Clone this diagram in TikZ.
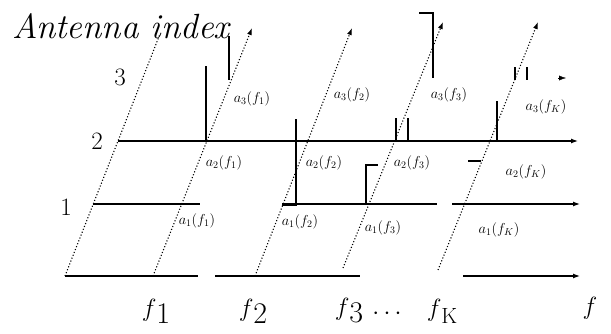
\documentclass[tikz,border=0pt]{standalone}
\usepackage{tikz}
\usetikzlibrary{arrows.meta}

\newcommand{\fsub}[2]{{\fontsize{32}{32}\selectfont$f$}{\fontsize{#2}{#2}\selectfont\raisebox{-7pt}{#1}}}

\begin{document}
\begin{tikzpicture}[x=1pt,y=-1pt,
  axisline/.style={line width=1.2pt},
  freq/.style={dotted,line width=1.1pt},
  pulse/.style={line width=1.4pt},
  tip/.style={-{Latex[length=7pt,width=5pt]}},
  coef/.style={font=\fontsize{14}{14}\selectfont},
  big/.style={font=\fontsize{25}{25}\selectfont}]
  \useasboundingbox (0,0) rectangle (611,334);

  % antenna axis and frequency lines
  \coordinate (a0) at (65,276);  \coordinate (a1) at (160,34);
  \coordinate (p1) at (153,276); \coordinate (q1) at (252,28);
  \coordinate (p2) at (255,276); \coordinate (q2) at (352,28);
  \coordinate (p3) at (343,268); \coordinate (q3) at (443,22);
  \coordinate (pk) at (438,270); \coordinate (qk) at (538,22);
  \draw[freq] (a0) -- (a1);
  \foreach \k in {1,2,3,k}
    \draw[freq,tip] (p\k) -- (q\k);

  % antenna 2
  \coordinate (h2a) at (118,141); \coordinate (h2b) at (578,141);
  \draw[axisline,tip] (h2a) -- (h2b);
  % antenna 1
  \coordinate (h1a) at (93,204);  \coordinate (h1b) at (200,204);
  \coordinate (h1c) at (282,204); \coordinate (h1d) at (437,204);
  \coordinate (h1e) at (452,204); \coordinate (h1f) at (580,204);
  \draw[axisline] (h1a) -- (h1b);
  \draw[axisline] (h1c) -- (h1d);
  \draw[axisline,tip] (h1e) -- (h1f);
  % base
  \coordinate (h0a) at (65,276);  \coordinate (h0b) at (198,276);
  \coordinate (h0c) at (215,276); \coordinate (h0d) at (360,276);
  \coordinate (h0e) at (463,276); \coordinate (h0f) at (580,276);
  \draw[axisline] (h0a) -- (h0b);
  \draw[axisline] (h0c) -- (h0d);
  \draw[axisline,tip] (h0e) -- (h0f);
  % antenna 3 tip
  \coordinate (h3a) at (558,78); \coordinate (h3b) at (566,78);
  \draw[tip] (h3a) -- (h3b);

  % pulses
  \draw[pulse] (206,141) -- (206,66);
  \draw[pulse] (229,80) -- (229,36);
  \draw[pulse] (282,205) -- (296,205) -- (296,119);
  \draw[pulse] (396,141) -- (396,118);
  \draw[pulse] (408,141) -- (408,118);
  \draw[pulse] (433,78) -- (433,13) -- (419,13);
  \draw[pulse] (366,205) -- (366,165) -- (378,165);
  \draw[pulse] (497,141) -- (497,101);
  \draw[pulse] (515,80) -- (515,67);
  \draw[pulse] (527,80) -- (527,67);
  \draw[pulse] (468,161) -- (481,161);

  % coefficients
  \node[coef] (c31) at (252,99)  {$a_{3}(f_{1})$};
  \node[coef] (c21) at (224,163) {$a_{2}(f_{1})$};
  \node[coef] (c11) at (197,221) {$a_{1}(f_{1})$};
  \node[coef] (c32) at (352,95)  {$a_{3}(f_{2})$};
  \node[coef] (c22) at (324,163) {$a_{2}(f_{2})$};
  \node[coef] (c12) at (300,222) {$a_{1}(f_{2})$};
  \node[coef] (c33) at (449,95)  {$a_{3}(f_{3})$};
  \node[coef] (c23) at (412,163) {$a_{2}(f_{3})$};
  \node[coef] (c13) at (383,228) {$a_{1}(f_{3})$};
  \node[coef] (c3k) at (546,107) {$a_{3}(f_{K})$};
  \node[coef] (c2k) at (526,172) {$a_{2}(f_{K})$};
  \node[coef] (c1k) at (499,230) {$a_{1}(f_{K})$};

  % axis labels
  \node[font=\fontsize{35}{35}\selectfont\itshape] (title) at (121,26) {Antenna index};
  \node[big] (n3) at (120,77)  {3};
  \node[big] (n2) at (97,141)  {2};
  \node[big] (n1) at (66,207)  {1};
  \node (fa) at (156,311) {\fsub{1}{30}};
  \node (fb) at (253,311) {\fsub{2}{30}};
  \node (fc) at (349,311) {\fsub{3}{30}};
  \node[font=\fontsize{30}{30}\selectfont] (dots) at (387,314) {$\cdots$};
  \node (fd) at (442,311) {\fsub{K}{22}};
  \node[font=\fontsize{32}{32}\selectfont] (fx) at (590,308) {$f$};
\end{tikzpicture}
\end{document}
